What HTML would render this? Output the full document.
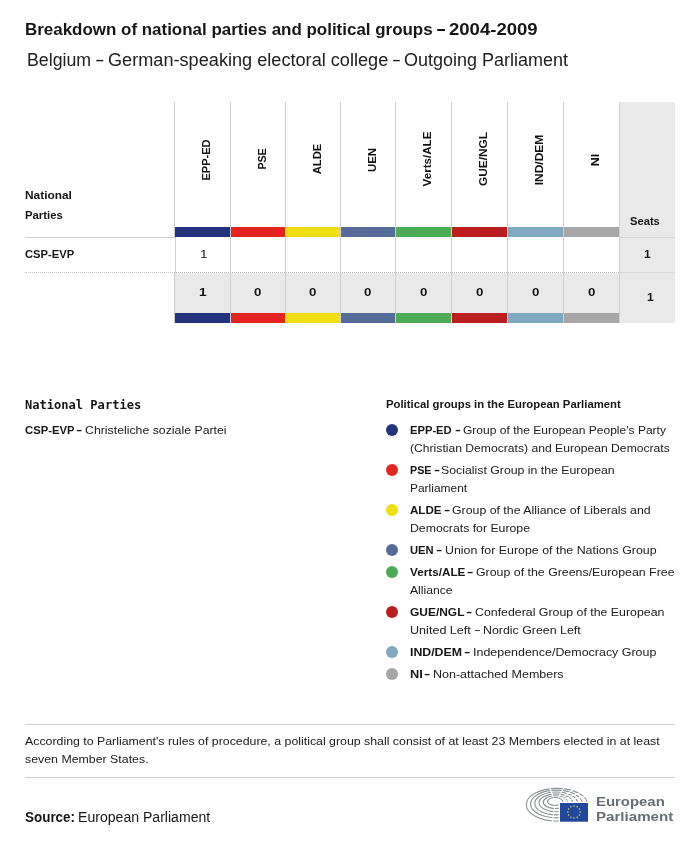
<!DOCTYPE html>
<html lang="en">
<head>
<meta charset="utf-8">
<title>Breakdown of national parties and political groups - 2004-2009</title>
<style>
*{box-sizing:border-box;margin:0;padding:0}
html,body{width:700px;height:842px;background:#fff;overflow:hidden}
body{position:relative;font-family:"Liberation Sans",sans-serif;color:#2b2b2b}
.t{position:absolute;white-space:nowrap;margin:0;transform-origin:0 50%}
.t b,.t span{display:inline-block;position:relative;transform-origin:0 50%}
.t b{color:#161616;font-weight:700}
.v{position:absolute;width:1px;background:#cfcfcf}
.h{position:absolute;height:1px;background:#cfcfcf}
.dot{position:absolute;height:0;border-top:1px dotted #c4c4c4}
.seats{position:absolute;left:619px;top:102px;width:56px;height:221px;background:#e9e9e9;border-left:1px solid #d2d2d2}
.tot{position:absolute;left:175px;top:273px;width:444px;height:40px;background:#e9e9e9}
.bar{position:absolute;height:10px}
.c1{background:#24347c}.c2{background:#e32421}.c3{background:#efdf13}.c4{background:#566c98}
.c5{background:#4daa57}.c6{background:#ba1e1f}.c7{background:#81a8c1}.c8{background:#a7a7a7}
.r{position:absolute;width:0;height:0}
.r span{position:absolute;left:0;top:0;display:block;white-space:nowrap;font-weight:700;font-size:11.5px;line-height:12px;color:#111;transform:translate(-50%,-50%) rotate(-90deg)}
.n{position:absolute;width:56px;text-align:center;font-size:11.5px;line-height:14px;color:#2b2b2b}
.n.b{font-weight:700;color:#1d1d1d}
.k{position:absolute;left:386px;width:12px;height:12px;border-radius:50%}
</style>
</head>
<body>
<h1 id="t1" class="t" style="left:25px;top:17px;font-size:16.5px;line-height:25px;font-weight:700;color:#161616;"><span id="t1_0" style="transform:scaleX(1.0269);">Breakdown of national parties and political groups</span> <span id="t1_1" style="transform:scaleX(1.8766);left:9px;top:-1px;">-</span> <span id="t1_2" style="transform:scaleX(1.1235);left:12px;">2004-2009</span></h1>
<h2 id="t2" class="t" style="left:27px;top:47px;font-size:17.5px;line-height:26px;font-weight:400;color:#202020;"><span id="t2_0" style="transform:scaleX(1.0132);">Belgium</span> <span id="t2_1" style="transform:scaleX(1.6425);left:0px;">-</span> <span id="t2_2" style="transform:scaleX(1.0364);left:2px;">German-speaking electoral college</span> <span id="t2_3" style="transform:scaleX(1.5318);left:11px;">-</span> <span id="t2_4" style="transform:scaleX(1.0273);left:12px;">Outgoing Parliament</span></h2>

<div class="seats"></div>
<div class="tot"></div>

<div class="v" style="left:174px;top:102px;height:135px"></div>
<div class="v" style="left:175px;top:237px;height:36px"></div>
<div class="v" style="left:174px;top:273px;height:50px"></div>
<div class="v" style="left:230px;top:102px;height:221px"></div>
<div class="v" style="left:285px;top:102px;height:221px"></div>
<div class="v" style="left:340px;top:102px;height:221px"></div>
<div class="v" style="left:395px;top:102px;height:221px"></div>
<div class="v" style="left:451px;top:102px;height:221px"></div>
<div class="v" style="left:507px;top:102px;height:221px"></div>
<div class="v" style="left:563px;top:102px;height:221px"></div>

<div class="bar c1" style="top:227px;left:175px;width:55px"></div>
<div class="bar c2" style="top:227px;left:231px;width:54px"></div>
<div class="bar c3" style="top:227px;left:286px;width:54px"></div>
<div class="bar c4" style="top:227px;left:341px;width:54px"></div>
<div class="bar c5" style="top:227px;left:396px;width:55px"></div>
<div class="bar c6" style="top:227px;left:452px;width:55px"></div>
<div class="bar c7" style="top:227px;left:508px;width:55px"></div>
<div class="bar c8" style="top:227px;left:564px;width:55px"></div>

<div class="bar c1" style="top:313px;left:175px;width:55px"></div>
<div class="bar c2" style="top:313px;left:231px;width:54px"></div>
<div class="bar c3" style="top:313px;left:286px;width:54px"></div>
<div class="bar c4" style="top:313px;left:341px;width:54px"></div>
<div class="bar c5" style="top:313px;left:396px;width:55px"></div>
<div class="bar c6" style="top:313px;left:452px;width:55px"></div>
<div class="bar c7" style="top:313px;left:508px;width:55px"></div>
<div class="bar c8" style="top:313px;left:564px;width:55px"></div>

<div class="h" style="left:25px;top:237px;width:150px"></div>
<div class="h" style="left:620px;top:237px;width:55px;background:#d6d6d6"></div>
<div class="dot" style="left:25px;top:272px;width:594px"></div>
<div class="h" style="left:620px;top:272px;width:55px;background:#d6d6d6"></div>


<div id="r1" class="r" style="left:206.20px;top:160.15px"><span style="transform:translate(-50%,-50%) rotate(-90deg) scale(0.960,1)">EPP-ED</span></div>
<div id="r2" class="r" style="left:262.15px;top:159.05px"><span style="transform:translate(-50%,-50%) rotate(-90deg) scale(0.923,1)">PSE</span></div>
<div id="r3" class="r" style="left:317.10px;top:159.30px"><span style="transform:translate(-50%,-50%) rotate(-90deg) scale(0.982,1)">ALDE</span></div>
<div id="r4" class="r" style="left:372.15px;top:160.00px"><span style="transform:translate(-50%,-50%) rotate(-90deg) scale(0.992,1)">UEN</span></div>
<div id="r5" class="r" style="left:427.30px;top:159.15px"><span style="transform:translate(-50%,-50%) rotate(-90deg) scale(1.009,1)">Verts/ALE</span></div>
<div id="r6" class="r" style="left:483.20px;top:159.30px"><span style="transform:translate(-50%,-50%) rotate(-90deg) scale(1.031,1)">GUE/NGL</span></div>
<div id="r7" class="r" style="left:538.70px;top:160.00px"><span style="transform:translate(-50%,-50%) rotate(-90deg) scale(1.042,1)">IND/DEM</span></div>
<div id="r8" class="r" style="left:594.75px;top:159.55px"><span style="transform:translate(-50%,-50%) rotate(-90deg) scale(1.079,1)">NI</span></div>

<div id="l1" class="t" style="left:25px;top:187px;font-size:11px;line-height:16px;font-weight:700;color:#161616;transform:scaleX(1.0808);">National</div>
<div id="l2" class="t" style="left:25px;top:207px;font-size:11px;line-height:16px;font-weight:700;color:#161616;transform:scaleX(1.0283);">Parties</div>
<div id="l3" class="t" style="left:25px;top:246px;font-size:11px;line-height:16px;font-weight:700;color:#161616;transform:scaleX(1.0174);">CSP-EVP</div>
<div id="l4" class="t" style="left:630px;top:213px;font-size:11px;line-height:16px;font-weight:700;color:#161616;transform:scaleX(1.0160);">Seats</div>



<div id="n1" class="t" style="left:200px;top:246px;font-size:11.5px;line-height:17px;font-weight:400;color:#202020;transform:scaleX(1.1697);">1</div>
<div id="n2" class="t" style="left:644px;top:246px;font-size:11.5px;line-height:17px;font-weight:700;color:#161616;transform:scaleX(1.0438);">1</div>
<div id="n3" class="t" style="left:199px;top:284px;font-size:11.5px;line-height:17px;font-weight:700;color:#161616;transform:scaleX(1.1829);">1</div>
<div id="n4" class="t" style="left:254px;top:284px;font-size:11.5px;line-height:17px;font-weight:700;color:#161616;transform:scaleX(1.1514);">0</div>
<div id="n5" class="t" style="left:309px;top:284px;font-size:11.5px;line-height:17px;font-weight:700;color:#161616;transform:scaleX(1.1514);">0</div>
<div id="n6" class="t" style="left:364px;top:284px;font-size:11.5px;line-height:17px;font-weight:700;color:#161616;transform:scaleX(1.1514);">0</div>
<div id="n7" class="t" style="left:420px;top:284px;font-size:11.5px;line-height:17px;font-weight:700;color:#161616;transform:scaleX(1.1514);">0</div>
<div id="n8" class="t" style="left:476px;top:284px;font-size:11.5px;line-height:17px;font-weight:700;color:#161616;transform:scaleX(1.1514);">0</div>
<div id="n9" class="t" style="left:532px;top:284px;font-size:11.5px;line-height:17px;font-weight:700;color:#161616;transform:scaleX(1.1514);">0</div>
<div id="n10" class="t" style="left:588px;top:284px;font-size:11.5px;line-height:17px;font-weight:700;color:#161616;transform:scaleX(1.1514);">0</div>
<div id="n11" class="t" style="left:647px;top:289px;font-size:11.5px;line-height:17px;font-weight:700;color:#161616;transform:scaleX(1.0438);">1</div>

<h3 id="m1" class="t" style="left:25px;top:396px;font-size:12px;line-height:18px;font-weight:700;color:#161616;font-family:'DejaVu Sans Mono','Liberation Mono',monospace;transform:scaleX(1.0051);">National Parties</h3>
<p id="p1" class="t" style="left:25px;top:422px;font-size:11px;line-height:16px;font-weight:400;color:#202020;"><b id="p1_0" style="transform:scaleX(1.0230);">CSP-EVP</b> <b id="p1_1" style="transform:scaleX(1.7184);left:0px;top:-1px;">-</b> <span id="p1_2" style="transform:scaleX(1.1187);left:2px;">Christeliche soziale Partei</span></p>

<h3 id="g0" class="t" style="left:386px;top:396px;font-size:11px;line-height:16px;font-weight:700;color:#161616;transform:scaleX(1.0297);">Political groups in the European Parliament</h3>
<div class="k c1" style="top:424px"></div>
<p id="g1" class="t" style="left:410px;top:422px;font-size:11px;line-height:16px;font-weight:400;color:#202020;"><b id="g1_0" style="transform:scaleX(1.0171);">EPP-ED</b> <b id="g1_1" style="transform:scaleX(1.6243);left:1px;top:-1px;">-</b> <span id="g1_2" style="transform:scaleX(1.0939);left:2px;">Group of the European People's Party</span></p>
<p id="g2" class="t" style="left:410px;top:440px;font-size:11px;line-height:16px;font-weight:400;color:#202020;transform:scaleX(1.1038);">(Christian Democrats) and European Democrats</p>
<div class="k c2" style="top:464px"></div>
<p id="g3" class="t" style="left:410px;top:462px;font-size:11px;line-height:16px;font-weight:400;color:#202020;"><b id="g3_0" style="transform:scaleX(0.9768);">PSE</b> <b id="g3_1" style="transform:scaleX(1.6557);left:-1px;top:-1px;">-</b> <span id="g3_2" style="transform:scaleX(1.1181);left:-1px;">Socialist Group in the European</span></p>
<p id="g4" class="t" style="left:410px;top:480px;font-size:11px;line-height:16px;font-weight:400;color:#202020;transform:scaleX(1.0868);">Parliament</p>
<div class="k c3" style="top:504px"></div>
<p id="g5" class="t" style="left:410px;top:502px;font-size:11px;line-height:16px;font-weight:400;color:#202020;"><b id="g5_0" style="transform:scaleX(1.0524);">ALDE</b> <b id="g5_1" style="transform:scaleX(1.6844);left:1px;top:-1px;">-</b> <span id="g5_2" style="transform:scaleX(1.1200);left:2px;">Group of the Alliance of Liberals and</span></p>
<p id="g6" class="t" style="left:410px;top:520px;font-size:11px;line-height:16px;font-weight:400;color:#202020;transform:scaleX(1.1148);">Democrats for Europe</p>
<div class="k c4" style="top:544px"></div>
<p id="g7" class="t" style="left:410px;top:542px;font-size:11px;line-height:16px;font-weight:400;color:#202020;"><b id="g7_0" style="transform:scaleX(1.0190);">UEN</b> <b id="g7_1" style="transform:scaleX(1.7184);left:0px;top:-1px;">-</b> <span id="g7_2" style="transform:scaleX(1.1272);left:2px;">Union for Europe of the Nations Group</span></p>
<div class="k c5" style="top:566px"></div>
<p id="g8" class="t" style="left:410px;top:564px;font-size:11px;line-height:16px;font-weight:400;color:#202020;"><b id="g8_0" style="transform:scaleX(1.0655);">Verts/ALE</b> <b id="g8_1" style="transform:scaleX(1.7490);left:2px;top:-1px;">-</b> <span id="g8_2" style="transform:scaleX(1.1234);left:4px;">Group of the Greens/European Free</span></p>
<p id="g9" class="t" style="left:410px;top:582px;font-size:11px;line-height:16px;font-weight:400;color:#202020;transform:scaleX(1.1069);">Alliance</p>
<div class="k c6" style="top:606px"></div>
<p id="g10" class="t" style="left:410px;top:604px;font-size:11px;line-height:16px;font-weight:400;color:#202020;"><b id="g10_0" style="transform:scaleX(1.0872);">GUE/NGL</b> <b id="g10_1" style="transform:scaleX(1.7184);left:3px;top:-1px;">-</b> <span id="g10_2" style="transform:scaleX(1.1220);left:5px;">Confederal Group of the European</span></p>
<p id="g11" class="t" style="left:410px;top:622px;font-size:11px;line-height:16px;font-weight:400;color:#202020;"><span id="g11_0" style="transform:scaleX(1.1440);">United Left</span> <span id="g11_1" style="transform:scaleX(1.8571);left:8px;top:-1px;">-</span> <span id="g11_2" style="transform:scaleX(1.1251);left:10px;">Nordic Green Left</span></p>
<div class="k c7" style="top:646px"></div>
<p id="g12" class="t" style="left:410px;top:644px;font-size:11px;line-height:16px;font-weight:400;color:#202020;"><b id="g12_0" style="transform:scaleX(1.1193);">IND/DEM</b> <b id="g12_1" style="transform:scaleX(1.7505);left:4px;top:-1px;">-</b> <span id="g12_2" style="transform:scaleX(1.1317);left:7px;">Independence/Democracy Group</span></p>
<div class="k c8" style="top:668px"></div>
<p id="g13" class="t" style="left:410px;top:666px;font-size:11px;line-height:16px;font-weight:400;color:#202020;"><b id="g13_0" style="transform:scaleX(1.1655);">NI</b> <b id="g13_1" style="transform:scaleX(1.7184);left:0px;top:-1px;">-</b> <span id="g13_2" style="transform:scaleX(1.1364);left:2px;">Non-attached Members</span></p>

<div class="h" style="left:25px;top:724px;width:650px"></div>
<p id="f1" class="t" style="left:25px;top:733px;font-size:11px;line-height:16px;font-weight:400;color:#202020;transform:scaleX(1.1216);">According to Parliament's rules of procedure, a political group shall consist of at least 23 Members elected in at least</p>
<p id="f2" class="t" style="left:25px;top:751px;font-size:11px;line-height:16px;font-weight:400;color:#202020;transform:scaleX(1.1229);">seven Member States.</p>
<div class="h" style="left:25px;top:777px;width:650px"></div>
<p id="s1" class="t" style="left:25px;top:807px;font-size:14px;line-height:21px;font-weight:400;color:#161616;"><b id="s1_0" style="transform:scaleX(0.9600);">Source:</b> <span id="s1_1" style="transform:scaleX(1.0055);left:-3px;">European Parliament</span></p>

<svg style="position:absolute;left:524px;top:785px" width="68" height="40" viewBox="524 785 68 40" aria-hidden="true">
<g fill="none" stroke="#8f9397" stroke-width="1.15">
<ellipse cx="556.90" cy="804.65" rx="30.60" ry="16.35"/>
<ellipse cx="556.55" cy="804.02" rx="26.00" ry="13.88"/>
<ellipse cx="556.20" cy="803.40" rx="21.40" ry="11.40"/>
<ellipse cx="555.85" cy="802.77" rx="16.80" ry="8.93"/>
<ellipse cx="555.50" cy="802.15" rx="12.20" ry="6.45"/>
<ellipse cx="555.15" cy="801.52" rx="7.60" ry="3.98"/>
</g>
<g stroke="#fff" stroke-width="1.1" stroke-linecap="butt">
<line x1="553.5" y1="797.5" x2="548.5" y2="784.5"/>
<line x1="558.3" y1="797.5" x2="565.5" y2="784.5"/>
<line x1="560.8" y1="798.6" x2="574.5" y2="788.5"/>
<line x1="562.5" y1="799.7" x2="580.5" y2="792.5"/>
<line x1="563.9" y1="800.8" x2="585.5" y2="796.5"/>
<line x1="554.6" y1="808.1" x2="552.3" y2="822.5"/>
</g>
<rect x="558.6" y="801.8" width="34" height="24" fill="#fff"/>
<rect x="560" y="803" width="28" height="18.7" fill="#20489d"/>
<g fill="#eadb5e">
<circle cx="574.00" cy="805.90" r=".75"/>
<circle cx="577.10" cy="806.72" r=".75"/>
<circle cx="579.37" cy="808.95" r=".75"/>
<circle cx="580.20" cy="812.00" r=".75"/>
<circle cx="579.37" cy="815.05" r=".75"/>
<circle cx="577.10" cy="817.28" r=".75"/>
<circle cx="574.00" cy="818.10" r=".75"/>
<circle cx="570.90" cy="817.28" r=".75"/>
<circle cx="568.63" cy="815.05" r=".75"/>
<circle cx="567.80" cy="812.00" r=".75"/>
<circle cx="568.63" cy="808.95" r=".75"/>
<circle cx="570.90" cy="806.72" r=".75"/>
</g>
</svg>
<div id="e1" class="t" style="left:596px;top:792px;font-size:13.3px;line-height:20px;font-weight:700;color:#686e75;transform:scaleX(1.1209);">European</div>
<div id="e2" class="t" style="left:596px;top:807px;font-size:13.3px;line-height:20px;font-weight:700;color:#686e75;transform:scaleX(1.1368);">Parliament</div>
</body>
</html>
